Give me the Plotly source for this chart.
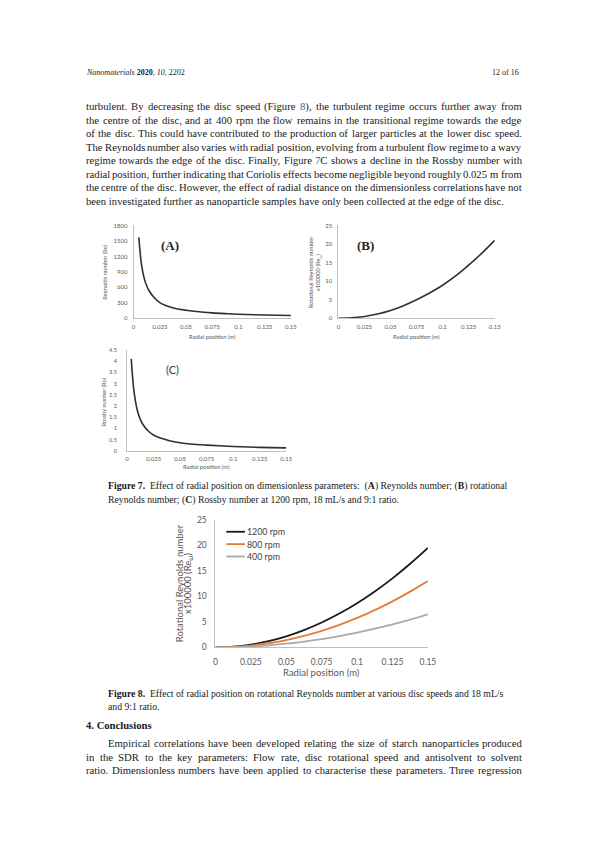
import re
import plotly.graph_objects as go

W, H = 595, 842

# ---- data ----
r_a = [0.005, 0.0075, 0.01, 0.0125, 0.015, 0.02, 0.025, 0.03, 0.04, 0.05, 0.06, 0.075, 0.09, 0.1, 0.125, 0.15]
re_a = [1570, 1050, 785, 630, 525, 395, 305, 255, 192, 158, 131, 105, 88, 79, 64, 55]

r_b = [0, 0.0125, 0.025, 0.0375, 0.05, 0.0625, 0.075, 0.0875, 0.1, 0.1125, 0.125, 0.1375, 0.15]
re_w_b = [0, 0.12, 0.5, 1.15, 2.1, 3.4, 5.0, 6.8, 8.9, 11.4, 14.3, 17.5, 21.0]

r_c = [0.004, 0.006, 0.008, 0.01, 0.0125, 0.015, 0.02, 0.025, 0.03, 0.04, 0.05, 0.06, 0.075, 0.1, 0.125, 0.15]
ro_c = [4.1, 2.9, 2.2, 1.75, 1.4, 1.17, 0.88, 0.7, 0.59, 0.45, 0.36, 0.3, 0.25, 0.19, 0.15, 0.13]

r_8 = [0, 0.0125, 0.025, 0.0375, 0.05, 0.0625, 0.075, 0.0875, 0.1, 0.1125, 0.125, 0.1375, 0.15]
re_w_1200 = [0, 0.14, 0.54, 1.22, 2.17, 3.39, 4.88, 6.64, 8.67, 10.97, 13.54, 16.39, 19.5]
re_w_800 = [0, 0.09, 0.36, 0.81, 1.44, 2.26, 3.25, 4.43, 5.78, 7.31, 9.03, 10.93, 13.0]
re_w_400 = [0, 0.05, 0.18, 0.41, 0.72, 1.13, 1.63, 2.21, 2.89, 3.66, 4.51, 5.46, 6.5]
speeds = ["1200 rpm", "800 rpm", "400 rpm"]
colours = ["#1a1a1a", "#e47d36", "#a9a9a9"]

x_ticks = [0, 0.025, 0.05, 0.075, 0.1, 0.125, 0.15]
x_ticktext = ["0", "0.025", "0.05", "0.075", "0.1", "0.125", "0.15"]

header = "<i>Nanomaterials</i> <b>2020</b>, <i>10</i>, 2202"
blue = "#2f5fa7"
# {..} marks a cross-reference printed in blue
body_lines = [
    "turbulent. By decreasing the disc speed (Figure {8}), the turbulent regime occurs further away from",
    "the centre of the disc, and at 400 rpm the flow remains in the transitional regime towards the edge",
    "of the disc. This could have contributed to the production of larger particles at the lower disc speed.",
    "The Reynolds number also varies with radial position, evolving from a turbulent flow regime to a wavy",
    "regime towards the edge of the disc. Finally, Figure {7}C shows a decline in the Rossby number with",
    "radial position, further indicating that Coriolis effects become negligible beyond roughly 0.025 m from",
    "the centre of the disc. However, the effect of radial distance on the dimensionless correlations have not",
    "been investigated further as nanoparticle samples have only been collected at the edge of the disc.",
]
cap7 = [
    "<b>Figure 7.</b>  Effect of radial position on dimensionless parameters:  (<b>A</b>) Reynolds number; (<b>B</b>) rotational",
    "Reynolds number; (<b>C</b>) Rossby number at 1200 rpm, 18 mL/s and 9:1 ratio.",
]
cap8 = [
    "<b>Figure 8.</b>  Effect of radial position on rotational Reynolds number at various disc speeds and 18 mL/s",
    "and 9:1 ratio.",
]
concl_lines = [
    "Empirical correlations have been developed relating the size of starch nanoparticles produced",
    "in the SDR to the key parameters: Flow rate, disc rotational speed and antisolvent to solvent",
    "ratio. Dimensionless numbers have been applied to characterise these parameters. Three regression",
]

# Times / Liberation Serif advance widths (1/1000 em)
tw = dict(zip("abcdefghijklmnopqrstuvwxyz",
              [444, 500, 444, 500, 444, 333, 500, 500, 278, 278, 500, 278, 778,
               500, 500, 500, 500, 333, 389, 278, 500, 500, 722, 500, 500, 444]))
tw.update(zip("ABCDEFGHIJKLMNOPQRSTUVWXYZ",
              [722, 667, 667, 722, 611, 556, 722, 722, 333, 389, 722, 611, 889,
               722, 722, 556, 722, 667, 556, 611, 722, 722, 944, 722, 722, 611]))
tw.update({c: 500 for c in "0123456789"})
tw.update({" ": 250, ".": 250, ",": 250, "(": 333, ")": 333, ":": 278, ";": 278, "/": 278, "-": 333})


def em(s):
    s = re.sub(r"<[^>]+>|[{}]", "", s)
    return sum(tw.get(c, 500) for c in s) / 1000.0


def markup(s):
    return re.sub(r"\{([^}]*)\}", r"<span style='color:%s'>\1</span>" % blue, s)


def px(x):
    return x / W


def py(y):
    return 1 - y / H


fig = go.Figure()

curve = dict(color="#303030", width=1.6, shape="spline")
fig.add_trace(go.Scatter(x=r_a, y=re_a, mode="lines", line=curve, xaxis="x", yaxis="y", showlegend=False))
fig.add_trace(go.Scatter(x=r_b, y=re_w_b, mode="lines", line=curve, xaxis="x2", yaxis="y2", showlegend=False))
fig.add_trace(go.Scatter(x=r_c, y=ro_c, mode="lines", line=curve, xaxis="x3", yaxis="y3", showlegend=False))

for name, ys, col in zip(speeds, [re_w_1200, re_w_800, re_w_400], colours):
    fig.add_trace(go.Scatter(x=r_8, y=ys, mode="lines", name=name, showlegend=False,
                             line=dict(color=col, width=1.8, shape="spline"), xaxis="x4", yaxis="y4"))

small = dict(family="Lato", size=6, color="#595959")
big = dict(family="Lato", size=8.5, color="#595959")


def xax(dom, anchor, font, standoff):
    return dict(domain=[px(dom[0]), px(dom[1])], anchor=anchor, range=[0, 0.15],
                tickvals=x_ticks, ticktext=x_ticktext, tickfont=font, ticklabelstandoff=standoff,
                showline=True, linecolor="#bfbfbf", linewidth=1,
                showgrid=False, zeroline=False, ticks="")


def yax(dom, anchor, rng, dt, font, standoff):
    return dict(domain=[py(dom[1]), py(dom[0])], anchor=anchor, range=rng, dtick=dt,
                tickfont=font, ticklabelstandoff=standoff, showline=True, linecolor="#bfbfbf", linewidth=1,
                showgrid=False, zeroline=False, ticks="")


fig.update_layout(
    width=W, height=H, margin=dict(l=0, r=0, t=0, b=0),
    paper_bgcolor="white", plot_bgcolor="white", showlegend=False,
    xaxis=xax((125.7, 285.7), "y", small, 2),
    yaxis=yax((215, 309), "x", [0, 1800], 300, small, 4),
    xaxis2=xax((334, 493), "y2", small, 2),
    yaxis2=yax((215, 309), "x2", [0, 25], 5, small, 4),
    xaxis3=xax((119, 281), "y3", small, 2),
    yaxis3=yax((341, 443), "x3", [0, 4.5], 0.5, dict(small, size=5.6), 8),
    xaxis4=xax((209, 425), "y4", big, 6),
    yaxis4=yax((513, 642), "x4", [0, 25], 5, big, 6),
)

ann = []
shapes = []


def text(x, y, s, size, family="Liberation Serif", anchor="left", color="#1a1a1a", angle=0):
    ann.append(dict(x=px(x), y=py(y), xref="paper", yref="paper", text=markup(s), showarrow=False,
                    xanchor=anchor, yanchor="middle", textangle=angle, borderpad=0,
                    font=dict(family=family, size=size, color=color)))


def justified(x0, x1, y, s, size):
    words = s.split(" ")
    widths = [em(w) * size for w in words]
    gap = (x1 - x0 - sum(widths)) / (len(words) - 1)
    x = x0
    for w, wd in zip(words, widths):
        text(x, y, w, size)
        x += wd + gap


# body font: largest size at which every justified line still fits with normal spaces
body_size = min([443 / em(s) for s in body_lines[:-1]] + [429 / em(body_lines[-1])]
                + [443 / em(s) for s in concl_lines[1:]] + [420.7 / em(concl_lines[0])])
head_size = 97 / em("Nanomaterials 2020, 10, 2202")

text(76, 60.7, header, head_size)
text(518.5, 60.7, "12 of 16", head_size, anchor="right")

body_y = [94.3, 108, 121.7, 135.5, 149, 162.7, 176.5, 190]
for y, s in zip(body_y[:-1], body_lines[:-1]):
    justified(76, 519, y, s, body_size)
text(76, body_y[-1], body_lines[-1], body_size)

# panel letters
text(163, 235, "<b>(A)</b>", 13, anchor="center", color="#262626")
text(362, 235, "<b>(B)</b>", 13, anchor="center", color="#262626")
text(165, 361, "(C)", 11, family="Lato", anchor="center", color="#404040")

# axis titles (figure 7)
grey = "#595959"
text(96.5, 262, "Reynolds number (Re)", 5.8, family="Lato", anchor="center", color=grey, angle=-90)
text(306.5, 262, "Rotational Reynolds number", 5.8, family="Lato", anchor="center", color=grey, angle=-90)
text(313.5, 262, "x100000 (Re<sub>ω</sub>)", 5.8, family="Lato", anchor="center", color=grey, angle=-90)
text(94.5, 393, "Rossby number (Ro)", 5.6, family="Lato", anchor="center", color=grey, angle=-90)
text(205.7, 327, "Radial position (m)", 5.8, family="Lato", anchor="center", color=grey)
text(413.5, 327, "Radial position (m)", 5.8, family="Lato", anchor="center", color=grey)
text(200, 458.5, "Radial position (m)", 5.8, family="Lato", anchor="center", color=grey)

# axis titles (figure 8)
text(172, 577, "Rotational Reynolds number", 9.5, family="Lato", anchor="center", color=grey, angle=-90)
text(181, 577, "x100000 (Re<sub>ω</sub>)", 9.5, family="Lato", anchor="center", color=grey, angle=-90)
text(317, 667, "Radial position (m)", 9.5, family="Lato", anchor="center", color=grey)

# legend of figure 8
for i, (name, col) in enumerate(zip(speeds, colours)):
    yy = 525 + 12.5 * i
    shapes.append(dict(type="line", xref="paper", yref="paper", x0=px(220), x1=px(239),
                       y0=py(yy), y1=py(yy), line=dict(color=col, width=1.8)))
    text(240, yy, name, 8.8, family="Lato", color="#404040")

# captions
cap_size = 398 / em(cap7[0])
for y, s in zip([479, 493.3], cap7):
    text(98.3, y, s, cap_size)
for y, s in zip([689, 702], cap8):
    text(98.3, y, s, cap_size)

text(76, 720.7, "<b>4. Conclusions</b>", 67 / (em("4. Conclusions") * 1.06))
justified(98.3, 519, 738.3, concl_lines[0], body_size)
justified(76, 519, 752.5, concl_lines[1], body_size)
justified(76, 519, 766, concl_lines[2], body_size)

fig.update_layout(annotations=ann, shapes=shapes)

fig.write_html("out.html")
